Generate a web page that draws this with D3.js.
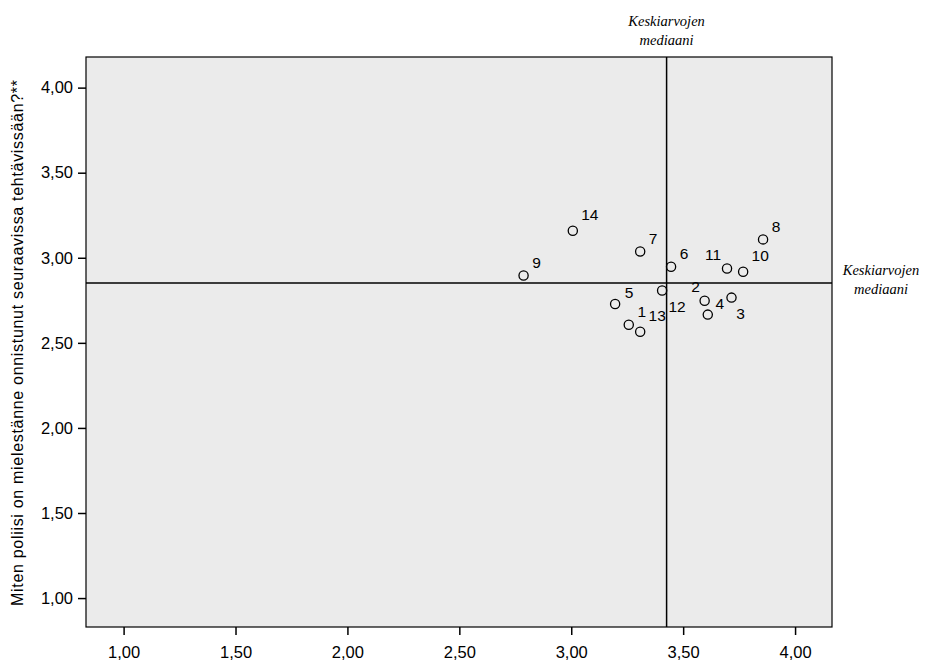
<!DOCTYPE html>
<html>
<head>
<meta charset="utf-8">
<script src="https://cdn.jsdelivr.net/npm/d3@7"></script>
<style>
  body { margin: 0; background: #fff; }
  svg text { font-family: "Liberation Sans", Arial, sans-serif; }
</style>
</head>
<body>
<svg id="chart" width="926" height="661"></svg>
<script>
// group ids and their means (x = first question, y = second question)
var ids = ["1", "2", "3", "4", "5", "6", "7", "8", "9", "10", "11", "12", "13", "14"];
var xVals = [3.257, 3.596, 3.716, 3.610, 3.196, 3.446, 3.308, 3.857, 2.787, 3.768, 3.696, 3.406, 3.308, 3.007];
var yVals = [2.606, 2.747, 2.766, 2.666, 2.728, 2.947, 3.037, 3.108, 2.896, 2.918, 2.937, 2.808, 2.565, 3.159];
var tickVals = [1, 1.5, 2, 2.5, 3, 3.5, 4];
var yTitle = "Miten poliisi on mielestänne onnistunut seuraavissa tehtävissään?**";
var medianLabel = ["Keskiarvojen", "mediaani"];

// label centre relative to its marker (px)
var labelOffset = {
  "1": [13, -13], "2": [-9, -14], "3": [9, 16], "4": [12, -11], "5": [14, -12],
  "6": [13, -13], "7": [13, -13], "8": [13, -13], "9": [13, -13], "10": [17, -16],
  "11": [-14, -14], "12": [15, 16], "13": [17, -16], "14": [17, -16]
};

var margin = {top: 57, right: 94, bottom: 34, left: 86};
var width = 926 - margin.left - margin.right;
var height = 661 - margin.top - margin.bottom;

var x = d3.scaleLinear().domain([0.832, 4.165]).range([0, width]);
var y = d3.scaleLinear().domain([0.83, 4.18]).range([height, 0]);
var fmt = function(d) { return d3.format(".2f")(d).replace(".", ","); };

var svg = d3.select("#chart");
var g = svg.append("g").attr("transform", "translate(" + margin.left + "," + margin.top + ")");

g.append("rect")
    .attr("width", width).attr("height", height)
    .attr("fill", "#ebebeb");

var xAxis = g.append("g")
    .attr("transform", "translate(0," + height + ")")
    .call(d3.axisBottom(x).tickValues(tickVals).tickFormat(fmt).tickSize(8).tickPadding(11));
var yAxis = g.append("g")
    .call(d3.axisLeft(y).tickValues(tickVals).tickFormat(fmt).tickSize(8).tickPadding(5));
[xAxis, yAxis].forEach(function(a) {
  a.select(".domain").remove();
  a.selectAll("line").attr("stroke", "#000").attr("stroke-width", 1.5);
  a.selectAll("text").attr("fill", "#000").style("font-size", "16.5px");
});

var medX = d3.median(xVals), medY = d3.median(yVals);

g.append("line")
    .attr("x1", x(medX)).attr("x2", x(medX)).attr("y1", 0).attr("y2", height)
    .attr("stroke", "#000").attr("stroke-width", 1.5);
g.append("line")
    .attr("x1", 0).attr("x2", width).attr("y1", y(medY)).attr("y2", y(medY))
    .attr("stroke", "#000").attr("stroke-width", 1.5);

g.append("rect")
    .attr("width", width).attr("height", height)
    .attr("fill", "none").attr("stroke", "#000").attr("stroke-width", 1.2);

var pts = ids.map(function(id, i) { return {id: id, x: xVals[i], y: yVals[i]}; });

g.selectAll("circle.pt").data(pts).enter().append("circle")
    .attr("class", "pt")
    .attr("cx", function(d) { return x(d.x); })
    .attr("cy", function(d) { return y(d.y); })
    .attr("r", 4.6)
    .attr("fill", "none").attr("stroke", "#000").attr("stroke-width", 1.3);

g.selectAll("text.lbl").data(pts).enter().append("text")
    .attr("class", "lbl")
    .attr("x", function(d) { return x(d.x) + labelOffset[d.id][0]; })
    .attr("y", function(d) { return y(d.y) + labelOffset[d.id][1]; })
    .attr("text-anchor", "middle")
    .attr("dominant-baseline", "central")
    .style("font-size", "15.5px")
    .text(function(d) { return d.id; });

// y axis title
svg.append("text")
    .attr("transform", "translate(23,343) rotate(-90)")
    .attr("text-anchor", "middle")
    .attr("textLength", 526)
    .attr("lengthAdjust", "spacing")
    .style("font-size", "16px")
    .text(yTitle);

// median annotations
var serif = "'Liberation Serif', 'Times New Roman', serif";
var topLbl = svg.append("text")
    .attr("text-anchor", "middle")
    .style("font-family", serif).style("font-style", "italic").style("font-size", "14.5px");
medianLabel.forEach(function(t, i) {
  topLbl.append("tspan").attr("x", margin.left + x(medX)).attr("y", 26 + i * 19).text(t);
});
var rightLbl = svg.append("text")
    .attr("text-anchor", "middle")
    .style("font-family", serif).style("font-style", "italic").style("font-size", "14.5px");
medianLabel.forEach(function(t, i) {
  rightLbl.append("tspan").attr("x", 881).attr("y", margin.top + y(medY) - 8 + i * 19).text(t);
});
</script>
</body>
</html>
